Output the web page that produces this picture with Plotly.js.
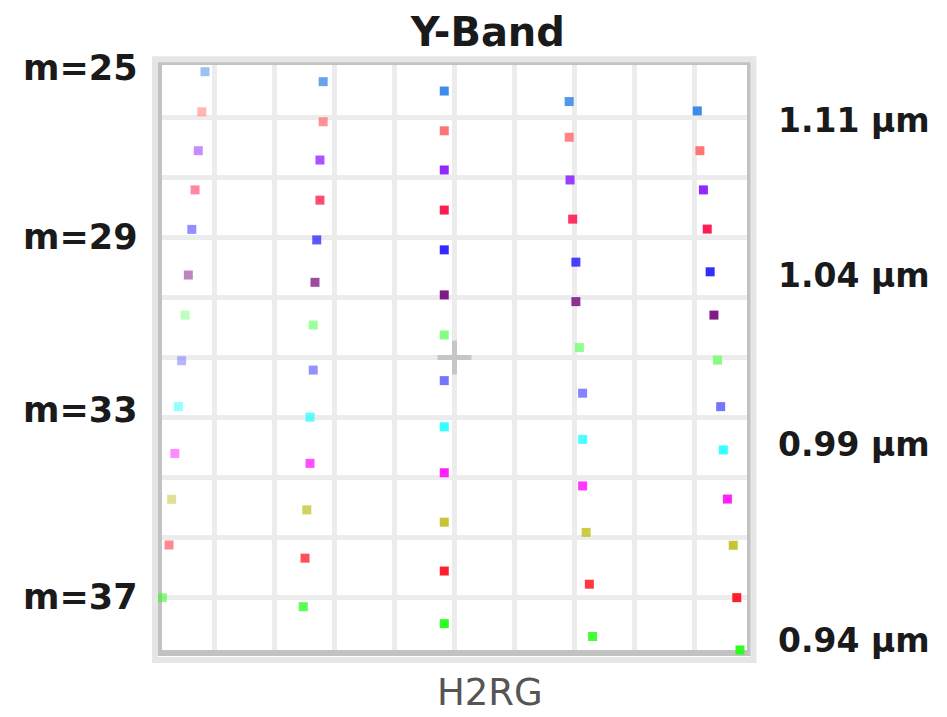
<!DOCTYPE html>
<html><head><meta charset="utf-8">
<script src="https://cdn.plot.ly/plotly-3.0.1.min.js"></script>
<style>html,body{margin:0;padding:0;background:#fff}#chart{width:947px;height:717px}</style>
</head><body><div id="chart"></div>
<script>
// Diffraction orders (top to bottom) and their colours
const orders = ['m=25','m=26','m=27','m=28','m=29','m=30','m=31','m=32','m=33','m=34','m=35','m=36','m=37'];
const orderColors = ['#3585e8','#ff6e6e','#8a1cff','#ff1048','#2a20ff','#7a1080','#7dff7d','#6e6eff','#2affff','#ff14ff','#c4c22a','#ff1422','#22ff14'];

// Detector positions (H2RG pixels) for five field points
const col1X = [171,160,148,137,126,114,103,91,80,68,57,48,25];
const col1Y = [47,184,317,451,586,742,879,1035,1192,1352,1509,1665,1845];
const col2X = [575,575,564,564,553,547,541,541,530,530,519,513,507];
const col2Y = [81,218,349,486,622,767,913,1067,1228,1386,1545,1710,1876];
const col3X = [989,989,989,989,989,989,989,989,989,989,989,989,989];
const col3Y = [113,249,383,520,656,810,947,1103,1261,1418,1587,1754,1934];
const col4X = [1416,1416,1419,1428,1439,1439,1451,1462,1462,1462,1474,1485,1496];
const col4Y = [149,271,417,551,698,833,990,1146,1304,1463,1622,1799,1978];
const col5X = [1854,1863,1875,1888,1898,1911,1923,1934,1943,1957,1977,1989,2000];
const col5Y = [181,317,451,585,731,879,1033,1192,1340,1508,1666,1845,2024];

const leftLabels = ['m=25','m=29','m=33','m=37'];
const leftLabelY = [34, 612, 1203, 1843];
const rightLabels = ['1.11 µm','1.04 µm','0.99 µm','0.94 µm'];
const rightLabelY = [215, 742, 1323, 1990];
const titleText = 'Y-Band';
const detectorName = 'H2RG';
const center = [1024, 1024];

const cols = [[col1X,col1Y,0.5],[col2X,col2Y,0.75],[col3X,col3Y,0.95],[col4X,col4Y,0.85],[col5X,col5Y,0.95]];
const traces = cols.map(function(c){
  return {type:'scatter', mode:'markers', x:c[0], y:c[1], text:orders,
    cliponaxis:false, hoverinfo:'text+x+y',
    marker:{symbol:'square', size:9, color:orderColors, opacity:c[2], line:{width:0}}};
});

const font = 'DejaVu Sans, Liberation Sans, sans-serif';
const annotations = [];
leftLabels.forEach(function(t,i){
  annotations.push({text:t, xref:'paper', yref:'y', x:-0.0376, y:leftLabelY[i], xanchor:'right', yanchor:'middle', showarrow:false,
    font:{family:font, size:35, color:'#1a1a1a', weight:'bold'}});
});
rightLabels.forEach(function(t,i){
  annotations.push({text:t, xref:'paper', yref:'y', x:1.316, y:rightLabelY[i], xanchor:'right', yanchor:'middle', showarrow:false,
    font:{family:font, size:33, color:'#1a1a1a', weight:'bold'}});
});
annotations.push({text:detectorName, xref:'paper', yref:'paper', x:0.5607, y:-0.1125, xanchor:'center', yanchor:'bottom', showarrow:false,
  font:{family:font, size:37, color:'#555555'}});

const axisCommon = {range:[24,2024], tick0:0, dtick:204.8, showgrid:true, gridcolor:'#ececec', gridwidth:5,
  showticklabels:false, ticks:'', zeroline:false, showline:true, mirror:true, linecolor:'#c2c2c2', linewidth:6,
  layer:'below traces', fixedrange:true};

const layout = {
  width:947, height:717,
  margin:{l:162, r:200, t:65, b:67},
  paper_bgcolor:'#ffffff', plot_bgcolor:'#ffffff',
  showlegend:false,
  title:{text:titleText, xref:'paper', x:0.557, xanchor:'center', yref:'container', y:0.956, yanchor:'middle',
    font:{family:font, size:40, color:'#1a1a1a', weight:'bold'}},
  xaxis:Object.assign({}, axisCommon),
  yaxis:Object.assign({}, axisCommon, {range:[2024,24]}),
  annotations:annotations,
  shapes:[
    {type:'rect', xref:'paper', yref:'paper', x0:-0.012, x1:1.011, y0:-0.017, y1:1.010, line:{color:'#e6e6e6', width:6}, layer:'above'},
    {type:'line', xref:'x', yref:'y', x0:center[0]-58, x1:center[0]+58, y0:center[1], y1:center[1], line:{color:'#c6c6c6', width:5}, layer:'above'},
    {type:'line', xref:'x', yref:'y', x0:center[0], x1:center[0], y0:center[1]-58, y1:center[1]+58, line:{color:'#c6c6c6', width:5}, layer:'above'}
  ]
};

Plotly.newPlot('chart', traces, layout, {displayModeBar:false, staticPlot:true});
</script>
</body></html>
